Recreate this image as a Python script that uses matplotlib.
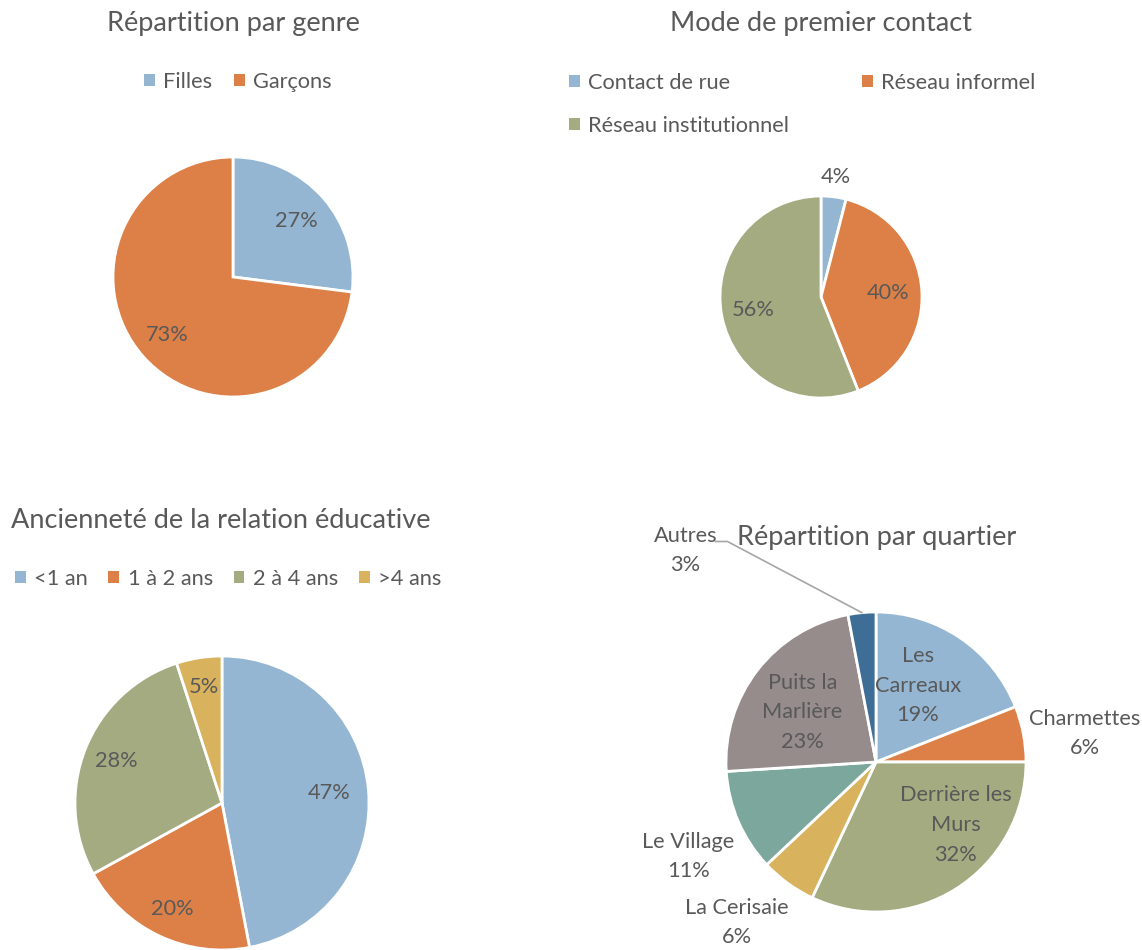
import matplotlib
matplotlib.use('Agg')
import matplotlib.pyplot as plt
from matplotlib.patches import Patch
import numpy as np


# ----------------------------------------------------------------------------------- #
#                                        Data                                         #
# ----------------------------------------------------------------------------------- #

genre_labels = ['Filles', 'Garçons']
genre_values = [27, 73]

contact_labels = ['Contact de rue', 'Réseau informel', 'Réseau institutionnel']
contact_values = [4, 40, 56]

anciennete_labels = ['<1 an', '1 à 2 ans', '2 à 4 ans', '>4 ans']
anciennete_values = [47, 20, 28, 5]

quartier_labels = ['Les Carreaux', 'Charmettes', 'Derrière les Murs', 'La Cerisaie',
                   'Le Village', 'Puits la Marlière', 'Autres']
quartier_text = ['Les\nCarreaux', 'Charmettes', 'Derrière les\nMurs', 'La Cerisaie',
                 'Le Village', 'Puits la\nMarlière', 'Autres']
quartier_values = [19, 6, 32, 6, 11, 23, 3]

# ----------------------------------------------------------------------------------- #
#                                       Styles                                        #
# ----------------------------------------------------------------------------------- #

W, H = 1142, 950
TEXT = '#595959'
COLORS = ['#94B6D2', '#DD8047', '#A5AB81', '#D8B25C', '#7BA79D', '#968C8C', '#3E6D96']
TITLE_SIZE = 19.5
LABEL_SIZE = 15.7
L = 1.25

plt.rcParams['font.family'] = ['Lato', 'DejaVu Sans']

fig = plt.figure(figsize=(W / 100, H / 100), dpi=100)
fig.patch.set_facecolor('white')


def px(x, y):
    return x / W, 1 - y / H


def pie_axes(cx, cy, r):
    ax = fig.add_axes([(cx - L * r) / W, 1 - (cy + L * r) / H, 2 * L * r / W, 2 * L * r / H])
    return ax


def draw_pie(ax, values, colors):
    wedges, _ = ax.pie(values, colors=colors, startangle=90, counterclock=False, radius=1,
                       wedgeprops=dict(edgecolor='white', linewidth=2))
    ax.set_xlim(-L, L)
    ax.set_ylim(-L, L)
    ax.axis('off')
    return wedges


def mid(w):
    return np.deg2rad((w.theta1 + w.theta2) / 2)


def pct_labels(ax, wedges, values, dists):
    total = sum(values)
    for w, v, d in zip(wedges, values, dists):
        a = mid(w)
        ax.text(d * np.cos(a), d * np.sin(a), f'{100 * v / total:.0f}%', ha='center',
                va='center', fontsize=LABEL_SIZE, color=TEXT)


def legend(handles_labels, colors, anchor, loc, ncol, colspace):
    handles = [Patch(facecolor=c, label=l) for l, c in zip(handles_labels, colors)]
    fig.legend(handles=handles, loc=loc, bbox_to_anchor=anchor, ncol=ncol, frameon=False,
               fontsize=LABEL_SIZE, labelcolor=TEXT, handlelength=0.5, handleheight=0.5,
               handletextpad=0.38, columnspacing=colspace, labelspacing=1.05,
               borderpad=0, borderaxespad=0)


# ----------------------------------------------------------------------------------- #
#                                 Répartition par genre                               #
# ----------------------------------------------------------------------------------- #

fig.text(*px(233, 24), 'Répartition par genre', ha='center', va='center',
         fontsize=TITLE_SIZE, color=TEXT)
legend(genre_labels, COLORS[:2], px(238, 82), 'center', 2, 1.0)
ax1 = pie_axes(233, 277, 120)
w1 = draw_pie(ax1, genre_values, COLORS[:2])
pct_labels(ax1, w1, genre_values, [0.7, 0.73])

# ----------------------------------------------------------------------------------- #
#                                Mode de premier contact                              #
# ----------------------------------------------------------------------------------- #

fig.text(*px(821, 24), 'Mode de premier contact', ha='center', va='center',
         fontsize=TITLE_SIZE, color=TEXT)
# reorder so the legend fills row by row
order = [0, 2, 1]
legend([contact_labels[i] for i in order], [COLORS[i] for i in order],
       px(569, 73), 'upper left', 2, 3.35)
ax2 = pie_axes(821, 297, 101)
w2 = draw_pie(ax2, contact_values, COLORS[:3])
pct_labels(ax2, w2, contact_values, [1.2, 0.66, 0.68])

# ----------------------------------------------------------------------------------- #
#                           Ancienneté de la relation éducative                       #
# ----------------------------------------------------------------------------------- #

fig.text(*px(221, 521), 'Ancienneté de la relation éducative', ha='center', va='center',
         fontsize=TITLE_SIZE, color=TEXT)
legend(anciennete_labels, COLORS[:4], px(228, 579), 'center', 4, 0.95)
ax3 = pie_axes(222, 803, 147)
w3 = draw_pie(ax3, anciennete_values, COLORS[:4])
pct_labels(ax3, w3, anciennete_values, [0.73, 0.8, 0.77, 0.8])

# ----------------------------------------------------------------------------------- #
#                                Répartition par quartier                             #
# ----------------------------------------------------------------------------------- #

fig.text(*px(877, 537), 'Répartition par quartier', ha='center', va='center',
         fontsize=TITLE_SIZE, color=TEXT)
ax4 = pie_axes(876, 762, 150)
w4 = draw_pie(ax4, quartier_values, COLORS[:7])

# label centres, in pie radius units
quartier_xy = [(0.28, 0.51), (1.39, 0.19), (0.53, -0.42), (-0.93, -1.07),
               (-1.25, -0.63), (-0.49, 0.33), (-1.27, 1.41)]
total = sum(quartier_values)
for name, v, (x, y) in zip(quartier_text, quartier_values, quartier_xy):
    ax4.text(x, y, f'{name}\n{100 * v / total:.0f}%', ha='center', va='center',
             fontsize=LABEL_SIZE, color=TEXT, linespacing=1.6)

# leader line for "Autres"
a = mid(w4[-1])
ax4.plot([-1.07, -0.99, np.cos(a)], [1.47, 1.47, np.sin(a)], color='#A6A6A6',
         lw=1.2, clip_on=False)

fig.savefig('out.png', dpi=100)
